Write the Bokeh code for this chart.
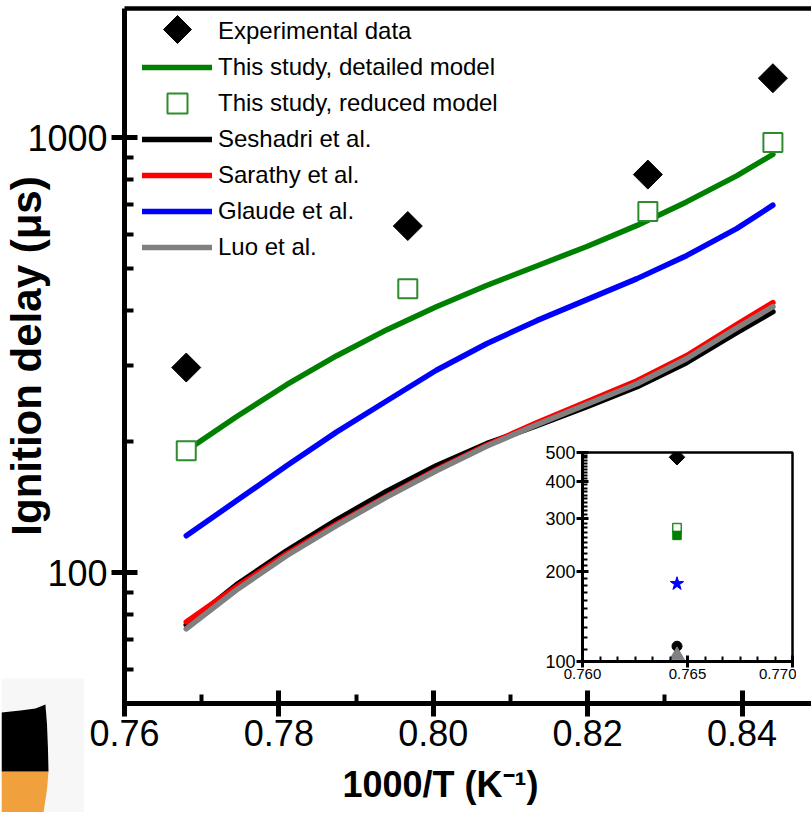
import numpy as np
from bokeh.plotting import figure
from bokeh.models import (Range1d, LinearAxis, LogAxis, FixedTicker, SingleIntervalTicker,
                          BasicTickFormatter, NumeralTickFormatter, Legend, LegendItem,
                          Title, GridBox)
from bokeh.embed import file_html
from bokeh.resources import INLINE

FONT = "Liberation Sans"

# ---- measured ignition delays (1000/T in 1/K, delay in microseconds) ----
exp_x = [0.768, 0.7967, 0.8278, 0.844]
exp_tau = [296, 626, 822, 1369]

reduced_x = [0.768, 0.7967, 0.8278, 0.844]
reduced_tau = [190.5, 449, 676, 974]

# ---- model predictions (all curves share the same 1000/T grid) ----
model_x = [0.768, 0.7745, 0.781, 0.7875, 0.794, 0.8004, 0.8069, 0.8134, 0.8199,
           0.8264, 0.8328, 0.8393, 0.844]
detailed_tau = [190.5, 228.1, 270.3, 315.1, 361.7, 408.5, 457.0, 506.8, 561.9,
                628.1, 711.3, 816.3, 914.7]
glaude_tau = [121.5, 146.2, 176.0, 210.6, 248.3, 291.8, 335.8, 379.4, 424.0,
              473.9, 535.2, 617.4, 699.2]
seshadri_tau = [75.8, 93.7, 112.2, 132.2, 153.8, 176.0, 197.8, 217.5, 240.6,
                267.4, 303.7, 356.0, 397.9]
sarathy_tau = [77.0, 92.7, 110.4, 129.4, 149.8, 172.3, 196.2, 221.0, 247.0,
               276.1, 315.1, 371.4, 417.3]
luo_tau = [74.2, 91.2, 109.3, 128.4, 149.3, 171.4, 195.2, 218.7, 243.8,
           271.7, 310.1, 364.6, 408.5]

# ---- single-temperature comparison for the inset ----
inset_x = [0.7645]
inset_exp = [482]
inset_reduced = [280]
inset_detailed = [264]
inset_glaude = [182]
inset_seshadri = [112.5]
inset_luo = [104.7]

# ---- axis ticks ----
x_major = [0.76, 0.78, 0.80, 0.82, 0.84]
x_minor = [0.77, 0.79, 0.81, 0.83]
y_major = [100, 1000]
y_minor = [50, 60, 70, 80, 90, 200, 300, 400, 500, 600, 700, 800, 900, 2000]
inset_y_major = [100, 200, 300, 400, 500]
inset_y_minor = [v for v in range(110, 500, 10) if v not in inset_y_major]

# ---- shield emblem: left/right edges of each colour band by height ----
shield_orange_y = [0, 23, 41]
shield_orange_left = [0, 0, 0]
shield_orange_right = [42, 45.5, 47]
shield_black_y = [41, 63, 88, 100, 102, 104, 108]
shield_black_left = [0, 0, 0, 0, 19, 34, 44]
shield_black_right = [47, 46.5, 45.5, 44.6, 44.4, 44.2, 44]

GREEN = "#008000"
SQUARE_EDGE = "#2e8b2e"

# ================= main plot =================
p = figure(frame_width=687, frame_height=695,
           x_range=Range1d(0.76, 0.849), y_range=Range1d(50, 1980),
           y_axis_type="log", x_axis_location=None, y_axis_location=None,
           output_backend="svg", toolbar_location=None,
           min_border_left=124, min_border_right=0, min_border_top=8, min_border_bottom=110,
           outline_line_color=None, background_fill_color="white", border_fill_color="white")
p.grid.visible = False

xaxis = LinearAxis(ticker=FixedTicker(ticks=x_major, minor_ticks=x_minor),
                   formatter=NumeralTickFormatter(format="0.00"))
yaxis = LogAxis(ticker=FixedTicker(ticks=y_major, minor_ticks=y_minor),
                formatter=BasicTickFormatter(use_scientific=False))
for ax in (xaxis, yaxis):
    ax.axis_line_width = 5
    ax.major_tick_line_width = 5
    ax.minor_tick_line_width = 4
    ax.major_tick_in = 13
    ax.major_tick_out = 13
    ax.minor_tick_in = 9
    ax.minor_tick_out = 0
    ax.major_label_text_font = FONT
    ax.major_label_text_font_size = "36px"
    ax.major_label_text_color = "black"
xaxis.major_label_standoff = 3
# a blank, small axis label just adds room between tick labels and the title below
xaxis.axis_label = " "
xaxis.axis_label_text_font_size = "8px"
xaxis.axis_label_standoff = 1
yaxis.major_label_standoff = 4
yaxis.axis_label = "Ignition delay (\u03bcs)"
yaxis.axis_label_text_font = FONT
yaxis.axis_label_text_font_size = "42px"
yaxis.axis_label_text_font_style = "bold"
yaxis.axis_label_text_color = "black"
yaxis.axis_label_standoff = -26
p.add_layout(xaxis, "below")
p.add_layout(yaxis, "left")

top = LinearAxis(ticker=FixedTicker(ticks=[]), axis_line_width=4.5,
                 major_tick_line_color=None, minor_tick_line_color=None,
                 major_label_text_font_size="0px", major_label_standoff=0)
p.add_layout(top, "above")

p.add_layout(Title(text="1000/T (K\u207b\u00b9)", align="left", offset=218,
                   text_font=FONT, text_font_size="36px", text_font_style="bold",
                   text_color="black", standoff=0), "below")

line_kw = dict(line_width=5.5, line_cap="round", line_join="round")
r_green = p.line(model_x, detailed_tau, line_color=GREEN, **line_kw)
r_blue = p.line(model_x, glaude_tau, line_color="#0000ff", **line_kw)
r_black = p.line(model_x, seshadri_tau, line_color="black", **line_kw)
r_red = p.line(model_x, sarathy_tau, line_color="#ff0000", **line_kw)
r_gray = p.line(model_x, luo_tau, line_color="#808080", **line_kw)

r_exp = p.scatter(exp_x, exp_tau, marker="square", angle=np.pi / 4, size=20.5,
                  fill_color="black", line_color="black")
r_red_sq = p.scatter(reduced_x, reduced_tau, marker="square", size=19,
                     fill_color="white", line_color=SQUARE_EDGE, line_width=2)

# text rows of the key; the two marker rows get their symbols separately
r_blank = p.scatter(x=[], y=[], fill_alpha=0, line_alpha=0)
key_text = dict(label_text_font=FONT, label_text_font_size="24px", label_text_color="black",
                border_line_color=None, background_fill_alpha=0, padding=0, margin=0)
legend = Legend(items=[
    LegendItem(label="Experimental data", renderers=[r_blank]),
    LegendItem(label="This study, detailed model", renderers=[r_green]),
    LegendItem(label="This study, reduced model", renderers=[r_blank]),
    LegendItem(label="Seshadri et al.", renderers=[r_black]),
    LegendItem(label="Sarathy et al.", renderers=[r_red]),
    LegendItem(label="Glaude et al.", renderers=[r_blue]),
    LegendItem(label="Luo et al.", renderers=[r_gray]),
], location=(18, 438), glyph_width=70, glyph_height=36, spacing=0,
    label_standoff=6, label_height=20, **key_text)
p.add_layout(legend)

square_key = Legend(items=[LegendItem(label=" ", renderers=[r_red_sq])],
                    location=(28, 575), glyph_width=50, glyph_height=50,
                    label_standoff=0, label_height=10, **key_text)
p.add_layout(square_key)

# key symbol for the experimental points (a square turned by 45 degrees)
swatch = figure(frame_width=30, frame_height=30, x_range=Range1d(-1, 1), y_range=Range1d(-1, 1),
                x_axis_location=None, y_axis_location=None,
                output_backend="svg", toolbar_location=None,
                min_border_left=0, min_border_right=0, min_border_top=0, min_border_bottom=0,
                outline_line_color=None, background_fill_color=None, border_fill_color=None)
swatch.grid.visible = False
swatch.scatter([0], [0], marker="square", angle=np.pi / 4, size=19.8,
               fill_color="black", line_color="black")

# ================= inset =================
ins = figure(frame_width=210, frame_height=209,
             x_range=Range1d(0.760, 0.770), y_range=Range1d(100, 500),
             y_axis_type="log", x_axis_location=None, y_axis_location=None,
             output_backend="svg", toolbar_location=None,
             min_border_left=42, min_border_right=4, min_border_top=12, min_border_bottom=26,
             outline_line_color="black", outline_line_width=2.5,
             background_fill_color="white", border_fill_color="white")
ins.grid.visible = False
ix = LinearAxis(ticker=SingleIntervalTicker(interval=0.005, num_minor_ticks=6),
                formatter=NumeralTickFormatter(format="0.000"))
iy = LogAxis(ticker=FixedTicker(ticks=inset_y_major, minor_ticks=inset_y_minor),
             formatter=BasicTickFormatter(use_scientific=False))
for ax in (ix, iy):
    ax.axis_line_width = 3
    ax.major_tick_line_width = 3
    ax.minor_tick_line_width = 2
    ax.major_tick_in = 6
    ax.major_tick_out = 6
    ax.minor_tick_in = 5
    ax.minor_tick_out = 0
    ax.major_label_text_font = FONT
    ax.major_label_text_color = "black"
    ax.major_label_standoff = 1
ix.major_label_text_font_size = "15px"
iy.major_label_text_font_size = "18px"
ins.add_layout(ix, "below")
ins.add_layout(iy, "left")

ins.scatter(inset_x, inset_exp, marker="square", angle=np.pi / 4, size=11, color="black")
ins.scatter(inset_x, inset_reduced, marker="square", size=8.5, fill_color="white",
            line_color=SQUARE_EDGE, line_width=1.5)
ins.scatter(inset_x, inset_detailed, marker="square", size=8.5, color=GREEN)
ins.scatter(inset_x, inset_glaude, marker="star", size=14, color="#0000ff")
ins.scatter(inset_x, inset_seshadri, marker="circle", size=10, color="black")
ins.scatter(inset_x, inset_luo, marker="triangle", size=15, color="#808080")

# ================= emblem =================
logo = figure(frame_width=83, frame_height=134, x_range=Range1d(0, 83), y_range=Range1d(0, 134),
              x_axis_location=None, y_axis_location=None,
              output_backend="svg", toolbar_location=None,
              min_border_left=0, min_border_right=0, min_border_top=0, min_border_bottom=0,
              outline_line_color=None, background_fill_color="#f7f7f7",
              border_fill_color="#f7f7f7")
logo.grid.visible = False
logo.harea(y=shield_orange_y, x1=shield_orange_left, x2=shield_orange_right,
           fill_color="#f0a03c")
logo.harea(y=shield_black_y, x1=shield_black_left, x2=shield_black_right,
           fill_color="black")

# each overlay sits in a grid cell of exactly its own size; thin spacer tracks keep
# the overlays off the main plot's outer grid lines
layout = GridBox(children=[(p, 0, 0, 7, 7), (swatch, 1, 3, 1, 1), (ins, 3, 5, 2, 1),
                           (logo, 4, 1, 2, 1)],
                 rows=["14px", "30px", "396px", "238px", "9px", "125px", "1px"],
                 cols=["1px", "83px", "78px", "30px", "348px", "256px", "15px"])
open("out.html", "w").write(file_html(layout, INLINE))
